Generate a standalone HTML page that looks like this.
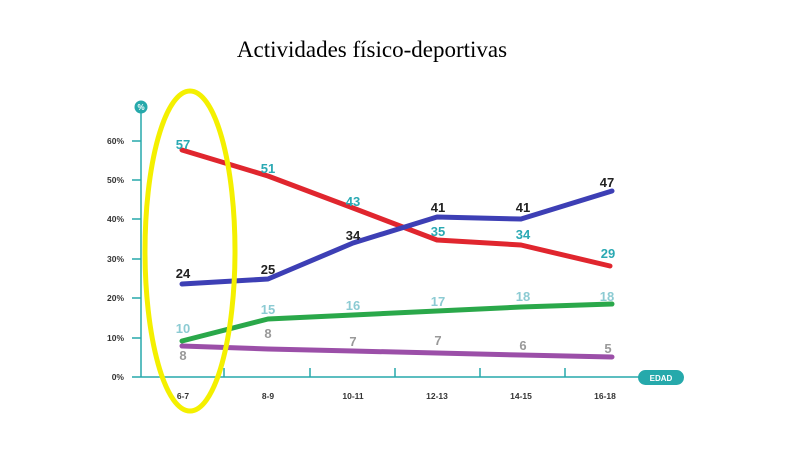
<!DOCTYPE html>
<html><head><style>body{margin:0;background:#fff}</style></head><body>
<svg width="800" height="450" xmlns="http://www.w3.org/2000/svg" font-family="Liberation Sans, sans-serif">
<text x="372" y="57" text-anchor="middle" font-family="Liberation Serif, serif" font-size="23" fill="#000">Actividades físico-deportivas</text>
<g stroke="#26a9ab" stroke-width="1.5">
<line x1="141" y1="110" x2="141" y2="377"/>
<line x1="132" y1="377" x2="650" y2="377"/>
<line x1="132" y1="141" x2="141" y2="141"/><line x1="132" y1="180" x2="141" y2="180"/><line x1="132" y1="219" x2="141" y2="219"/><line x1="132" y1="259" x2="141" y2="259"/><line x1="132" y1="298" x2="141" y2="298"/><line x1="132" y1="338" x2="141" y2="338"/>
<line x1="224" y1="368" x2="224" y2="377"/><line x1="310" y1="368" x2="310" y2="377"/><line x1="395" y1="368" x2="395" y2="377"/><line x1="480" y1="368" x2="480" y2="377"/><line x1="565" y1="368" x2="565" y2="377"/>
</g>
<circle cx="141" cy="107" r="6.5" fill="#26a9ab"/>
<text x="141" y="110" text-anchor="middle" font-size="8" font-weight="bold" fill="#fff">%</text>
<rect x="638" y="370" width="46" height="15" rx="7.5" fill="#26a9ab"/>
<text x="661" y="381" text-anchor="middle" font-size="8" font-weight="bold" fill="#fff">EDAD</text>
<g font-size="8.5" font-weight="bold" fill="#333" text-anchor="end">
<text x="124" y="144">60%</text><text x="124" y="183">50%</text><text x="124" y="222">40%</text><text x="124" y="262">30%</text><text x="124" y="301">20%</text><text x="124" y="341">10%</text><text x="124" y="380">0%</text>
</g>
<g font-size="8.5" font-weight="bold" fill="#333" text-anchor="middle">
<text x="183" y="399">6-7</text><text x="268" y="399">8-9</text><text x="353" y="399">10-11</text><text x="437" y="399">12-13</text><text x="521" y="399">14-15</text><text x="605" y="399">16-18</text>
</g>
<g fill="none" stroke-width="5" stroke-linecap="round" stroke-linejoin="round">
<polyline stroke="#e0262e" points="182,150 268,176 353,208 437,240 521,245 610,266"/>
<polyline stroke="#3d3fb5" points="182,284 268,279 353,243 437,217 521,219 612,191"/>
<polyline stroke="#2aa84a" points="182,341 268,319 353,315 437,311 521,307 612,304"/>
<polyline stroke="#9b4fa8" points="182,346 268,349 353,351 437,353 521,355 612,357"/>
</g>
<g font-size="13" font-weight="bold" text-anchor="middle">
<g fill="#2aa9b3"><text x="183" y="149">57</text><text x="268" y="173">51</text><text x="353" y="206">43</text><text x="438" y="236">35</text><text x="523" y="239">34</text><text x="608" y="258">29</text></g>
<g fill="#222"><text x="183" y="278">24</text><text x="268" y="274">25</text><text x="353" y="240">34</text><text x="438" y="212">41</text><text x="523" y="212">41</text><text x="607" y="187">47</text></g>
<g fill="#8ccbd3"><text x="183" y="333">10</text><text x="268" y="314">15</text><text x="353" y="310">16</text><text x="438" y="306">17</text><text x="523" y="301">18</text><text x="607" y="301">18</text></g>
<g fill="#999"><text x="183" y="360">8</text><text x="268" y="338">8</text><text x="353" y="346">7</text><text x="438" y="345">7</text><text x="523" y="350">6</text><text x="608" y="353">5</text></g>
</g>
<ellipse cx="190" cy="251" rx="45" ry="160" fill="none" stroke="#f4f000" stroke-width="5"/>
</svg>
</body></html>
